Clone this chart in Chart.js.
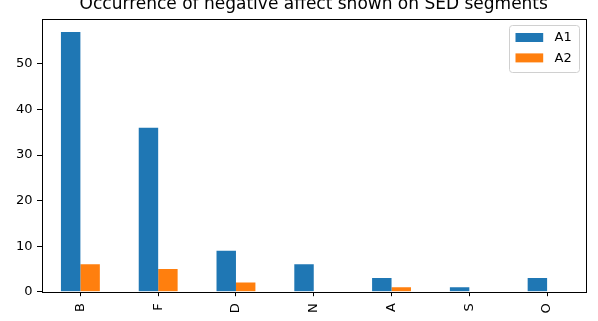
<!DOCTYPE html>
<html>
<head>
<meta charset="utf-8">
<script src="https://cdn.jsdelivr.net/npm/chart.js@4/dist/chart.umd.min.js"></script>
<style>
html,body{margin:0;padding:0;background:#fff;}
canvas{display:block;}
</style>
</head>
<body>
<canvas id="c" width="598" height="321" style="width:598px;height:321px"></canvas>
<script>
const categories = ["B", "F", "D", "N", "A", "S", "O"];
const seriesA1 = [57, 36, 9, 6, 3, 1, 3];
const seriesA2 = [6, 5, 2, 0, 1, 0, 0];
const seriesNames = ["A1", "A2"];
const yTicks = [0, 10, 20, 30, 40, 50];
const titleText = "Occurrence of negative affect shown on SED segments";

const FONT = "'DejaVu Sans', sans-serif";

const framePlugin = {
  id: 'frame',
  afterDraw(chart) {
    const {ctx, chartArea: a} = chart;
    ctx.save();
    ctx.strokeStyle = '#000';
    ctx.lineWidth = 1;
    ctx.strokeRect(Math.round(a.left) + 0.5, Math.round(a.top) + 0.5,
                   Math.round(a.right - a.left) - 1, Math.round(a.bottom - a.top));
    // title
    ctx.fillStyle = '#000';
    ctx.font = "17px " + FONT;
    ctx.textAlign = 'center';
    ctx.textBaseline = 'alphabetic';
    ctx.fillText(titleText, (a.left + a.right) / 2, 9);
    // legend
    const ds = chart.data.datasets;
    const bw = 70, bh = 47;
    const bx = a.right - 6.5 - bw, by = a.top + 6.5;
    ctx.beginPath();
    if (ctx.roundRect) ctx.roundRect(bx, by, bw, bh, 3); else ctx.rect(bx, by, bw, bh);
    ctx.fillStyle = 'rgba(255,255,255,0.8)';
    ctx.fill();
    ctx.strokeStyle = '#d0d0d0';
    ctx.lineWidth = 1;
    ctx.stroke();
    ctx.font = "13px " + FONT;
    ctx.textAlign = 'left';
    ctx.textBaseline = 'middle';
    ds.forEach((d, i) => {
      const cy = by + 12 + i * 20.4;
      ctx.fillStyle = d.backgroundColor;
      ctx.fillRect(bx + 6, cy - 4.5, 27.7, 9);
      ctx.fillStyle = '#000';
      ctx.fillText(d.label, bx + 45, cy + 0.5);
    });
    ctx.restore();
  }
};

new Chart(document.getElementById('c'), {
  type: 'bar',
  data: {
    labels: categories,
    datasets: [
      {label: seriesNames[0], data: seriesA1, backgroundColor: '#1f77b4', borderWidth: 0,
       categoryPercentage: 0.5, barPercentage: 1.0},
      {label: seriesNames[1], data: seriesA2, backgroundColor: '#ff7f0e', borderWidth: 0,
       categoryPercentage: 0.5, barPercentage: 1.0}
    ]
  },
  options: {
    responsive: false,
    animation: false,
    layout: {padding: {top: 19, right: 12, left: 0, bottom: 0}},
    plugins: {legend: {display: false}, title: {display: false}, tooltip: {enabled: false}},
    scales: {
      x: {
        offset: true,
        grid: {display: true, drawOnChartArea: false, drawTicks: true, tickLength: 4.5,
               color: '#000', lineWidth: 1, offset: false},
        border: {display: false},
        ticks: {font: {family: FONT, size: 13}, color: '#000', minRotation: 90, maxRotation: 90,
                autoSkip: false, padding: 7},
        afterFit(s) { s.height = 29.3; }
      },
      y: {
        min: 0, max: 59.85,
        grid: {display: true, drawOnChartArea: false, drawTicks: true, tickLength: 4.5,
               color: '#000', lineWidth: 1},
        border: {display: false},
        ticks: {font: {family: FONT, size: 13}, color: '#000', padding: 4.5, stepSize: 10},
        afterBuildTicks(s) { s.ticks = yTicks.map(v => ({value: v})); },
        afterFit(s) { s.width = 41.5; }
      }
    }
  },
  plugins: [framePlugin]
});
</script>
</body>
</html>
